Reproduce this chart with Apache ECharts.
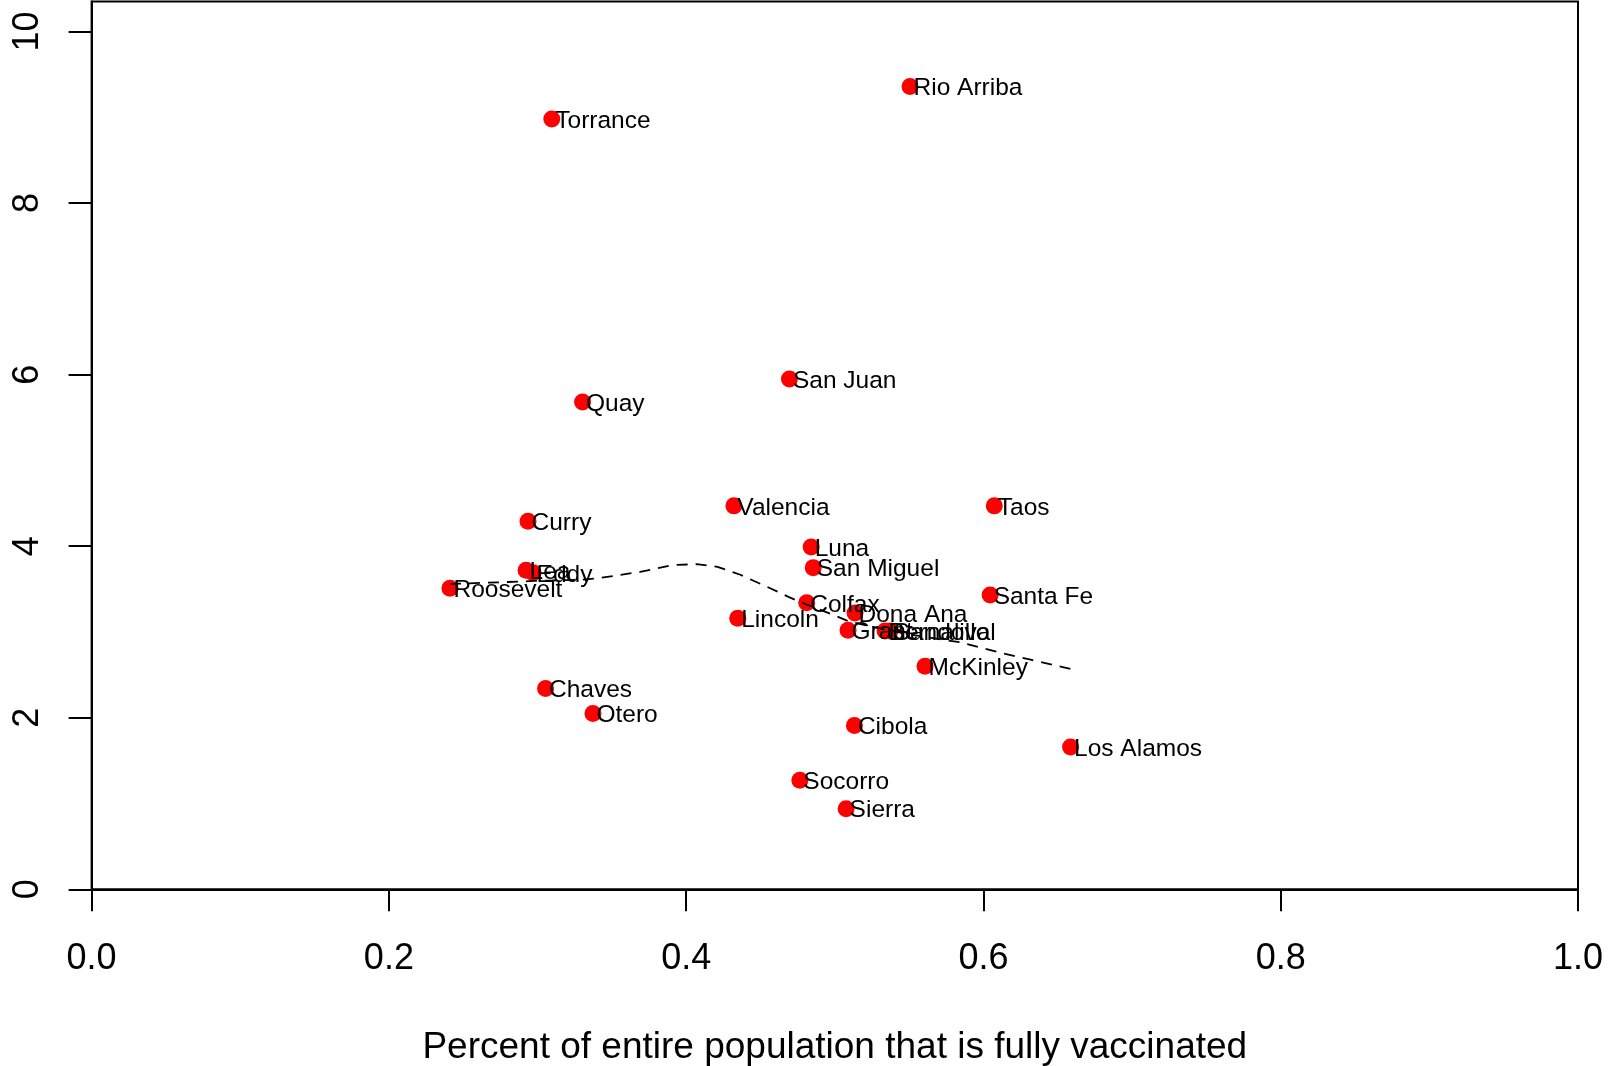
<!DOCTYPE html>
<html>
<head>
<meta charset="utf-8">
<script src="https://cdn.jsdelivr.net/npm/echarts@6/dist/echarts.min.js"></script>
<style>
html,body{margin:0;padding:0;background:#fff;}
#chart{width:1614px;height:1066px;}
</style>
</head>
<body>
<div id="chart"></div>
<script>
const counties = ["Rio Arriba","Torrance","San Juan","Quay","Valencia","Taos","Curry","Luna","San Miguel","Lea","Eddy","Roosevelt","Santa Fe","Colfax","Dona Ana","Lincoln","Grant","Bernalillo","Sandoval","McKinley","Chaves","Otero","Cibola","Los Alamos","Socorro","Sierra"];
const vaccinated = [0.5506,0.3096,0.4695,0.3303,0.4321,0.6073,0.2936,0.4841,0.4855,0.2923,0.2970,0.2411,0.6045,0.4811,0.5136,0.4347,0.5089,0.5338,0.5372,0.5607,0.3054,0.3373,0.5132,0.6586,0.4765,0.5076];
const yValues = [9.36,8.98,5.95,5.68,4.47,4.47,4.29,3.99,3.75,3.72,3.69,3.51,3.43,3.34,3.22,3.16,3.02,3.01,3.01,2.60,2.34,2.05,1.91,1.66,1.27,0.94];
const curveX = [0.2411,0.2923,0.2970,0.3096,0.3303,0.342,0.369,0.391,0.407,0.421,0.436,0.454,0.470,0.481,0.499,0.510,0.533,0.551,0.584,0.611,0.631,0.6586];
const curveY = [3.56,3.59,3.595,3.60,3.61,3.63,3.70,3.78,3.79,3.76,3.67,3.53,3.40,3.32,3.20,3.12,3.03,2.97,2.88,2.76,2.68,2.57];
const xTicks = [0,0.2,0.4,0.6,0.8,1.0];
const yTicks = [0,2,4,6,8,10];
const xTitle = "Percent of entire population that is fully vaccinated";

const FONT = "'Liberation Sans', Arial, Helvetica, sans-serif";
const chart = echarts.init(document.getElementById('chart'), null, {renderer:'canvas'});
const pts = counties.map((c,i)=>({name:c, value:[vaccinated[i], yValues[i]]}));
const curve = curveX.map((x,i)=>[x, curveY[i]]);
chart.setOption({
  animation:false,
  backgroundColor:'#fff',
  grid:{left:91.6, right:36, top:1.5, bottom:176.7, containLabel:false, outerBoundsMode:'none', show:true, borderColor:'#000', borderWidth:2, backgroundColor:'transparent'},
  xAxis:{
    type:'value', min:0, max:1, interval:0.2,
    axisLine:{show:true, onZero:false, lineStyle:{color:'#000', width:2}},
    axisTick:{show:true, inside:false, length:22, lineStyle:{color:'#000', width:2}, customValues:xTicks},
    axisLabel:{show:true, fontSize:36, color:'#000', fontFamily:FONT, margin:52, customValues:xTicks, formatter:v=>v.toFixed(1)},
    splitLine:{show:false},
    name:xTitle, nameLocation:'middle', nameGap:140,
    nameTextStyle:{fontSize:37, color:'#000', fontFamily:FONT}
  },
  yAxis:{
    type:'value', min:0, max:10.35, interval:2,
    axisLine:{show:true, onZero:false, lineStyle:{color:'#000', width:2}},
    axisTick:{show:true, inside:false, length:23, lineStyle:{color:'#000', width:2}, customValues:yTicks},
    axisLabel:{show:true, rotate:90, fontSize:36, color:'#000', fontFamily:FONT, margin:46, customValues:yTicks, formatter:v=>String(v)},
    splitLine:{show:false}
  },
  series:[
    {
      type:'scatter', data:pts, symbol:'circle', symbolSize:17,
      itemStyle:{color:'#ff0000', opacity:1},
      label:{show:true, position:'right', distance:-5, offset:[0,2], formatter:p=>p.name, fontSize:24.5, color:'#000', fontFamily:FONT},
      emphasis:{disabled:true}
    },
    {
      type:'line', data:curve, symbol:'none', smooth:false, z:5,
      lineStyle:{color:'#000', width:1.8, type:[11,8]},
      emphasis:{disabled:true}
    }
  ]
});
</script>
</body>
</html>
